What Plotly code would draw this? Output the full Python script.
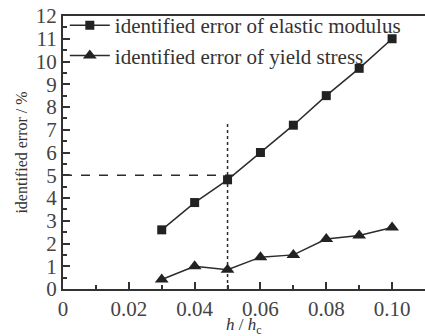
import plotly.graph_objects as go

h_ratio = [0.03, 0.04, 0.05, 0.06, 0.07, 0.08, 0.09, 0.10]
err_modulus = [2.6, 3.8, 4.8, 6.0, 7.2, 8.5, 9.7, 11.0]
err_yield = [0.42, 1.0, 0.85, 1.4, 1.5, 2.2, 2.35, 2.7]
threshold_err = 5
chosen_ratio = 0.05
threshold_x_end = 0.053
chosen_y_end = 7.3

font = "Liberation Serif, Times New Roman, serif"
dark = "#2b2b2b"

fig = go.Figure()
fig.add_trace(go.Scatter(x=[0, threshold_x_end], y=[threshold_err, threshold_err], mode="lines",
                         line=dict(color=dark, width=1.5, dash="dash"), showlegend=False, hoverinfo="skip"))
fig.add_trace(go.Scatter(x=[chosen_ratio, chosen_ratio], y=[0, chosen_y_end], mode="lines",
                         line=dict(color=dark, width=1.5, dash="dot"), showlegend=False, hoverinfo="skip"))
fig.add_trace(go.Scatter(x=h_ratio, y=err_modulus, mode="lines+markers",
                         name="identified error of elastic modulus",
                         line=dict(color=dark, width=1.5),
                         marker=dict(symbol="square", size=9, color="#222")))
fig.add_trace(go.Scatter(x=h_ratio, y=err_yield, mode="lines+markers",
                         name="identified error of yield stress",
                         line=dict(color=dark, width=1.5),
                         marker=dict(symbol="triangle-up", size=12, color="#222")))

fig.update_layout(
    width=425, height=336,
    margin=dict(l=63, r=0, t=16, b=47),
    paper_bgcolor="white", plot_bgcolor="white",
    font=dict(family=font, size=21, color="#333"),
    legend=dict(x=0.005, y=1.04, xanchor="left", yanchor="top", bgcolor="rgba(0,0,0,0)",
                font=dict(size=21, color="#333"), itemwidth=40, tracegroupgap=0),
    xaxis=dict(range=[0, 0.11], tickvals=[0, 0.02, 0.04, 0.06, 0.08, 0.10],
               ticktext=["0", "0.02", "0.04", "0.06", "0.08", "0.10"],
               ticks="inside", ticklen=7, tickwidth=1.5, tickcolor="#333",
               tickfont=dict(size=21, color="#444"),
               minor=dict(dtick=0.01, ticks="inside", ticklen=4, tickcolor="#333"),
               showline=True, linewidth=2, linecolor="#333", mirror=True,
               showgrid=False, zeroline=False, automargin=False),
    yaxis=dict(range=[0, 12], dtick=1, ticks="inside", ticklen=7, tickwidth=1.5, tickcolor="#333",
               tickfont=dict(size=21, color="#444"),
               minor=dict(dtick=0.5, ticks="inside", ticklen=4, tickcolor="#333"),
               showline=True, linewidth=2, linecolor="#333",
               showgrid=False, zeroline=False, automargin=False,
               title=dict(text="identified error / %", font=dict(size=16), standoff=4)),
    annotations=[dict(text="<i>h</i> / <i>h</i><sub>c</sub>", xref="paper", yref="paper",
                      x=0.5, y=0, yshift=-24, xanchor="center", yanchor="top",
                      showarrow=False, font=dict(size=17, color="#333"))],
)

fig.write_html("out.html")
